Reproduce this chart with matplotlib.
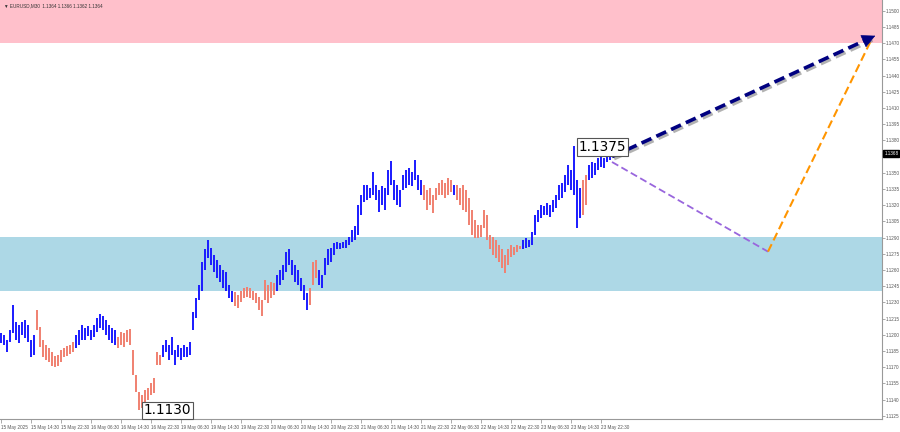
import numpy as np
import matplotlib
matplotlib.use("Agg")
import matplotlib.pyplot as plt
import matplotlib.patheffects as pe

# EURUSD M30 bars (high / low)
highs = [1.1202, 1.1200, 1.1195, 1.1204, 1.1228, 1.1212, 1.1209, 1.1212, 1.1214, 1.1209,
         1.1195, 1.1200, 1.1223, 1.1207, 1.1195, 1.1191, 1.1188, 1.1184, 1.1180, 1.1181,
         1.1186, 1.1188, 1.1190, 1.1191, 1.1193, 1.1200, 1.1204, 1.1209, 1.1206, 1.1208,
         1.1204, 1.1209, 1.1216, 1.1219, 1.1217, 1.1214, 1.1209, 1.1206, 1.1204, 1.1198,
         1.1203, 1.1202, 1.1204, 1.1205, 1.1186, 1.1163, 1.1147, 1.1144, 1.1149, 1.1151,
         1.1155, 1.1160, 1.1184, 1.1181, 1.1191, 1.1195, 1.1191, 1.1198, 1.1186, 1.1191,
         1.1188, 1.1191, 1.1189, 1.1193, 1.1221, 1.1234, 1.1246, 1.1267, 1.1279, 1.1288,
         1.1280, 1.1274, 1.1269, 1.1265, 1.1260, 1.1258, 1.1246, 1.1241, 1.1240, 1.1237,
         1.1241, 1.1243, 1.1244, 1.1243, 1.1241, 1.1239, 1.1235, 1.1232, 1.1251, 1.1246,
         1.1249, 1.1248, 1.1255, 1.1260, 1.1265, 1.1277, 1.1279, 1.1269, 1.1265, 1.1260,
         1.1253, 1.1246, 1.1239, 1.1243, 1.1267, 1.1269, 1.1260, 1.1255, 1.1271, 1.1279,
         1.1280, 1.1285, 1.1286, 1.1285, 1.1286, 1.1288, 1.1291, 1.1297, 1.1301, 1.1320,
         1.1329, 1.1339, 1.1339, 1.1336, 1.1351, 1.1339, 1.1334, 1.1338, 1.1336, 1.1353,
         1.1361, 1.1343, 1.1339, 1.1334, 1.1348, 1.1353, 1.1354, 1.1351, 1.1362, 1.1348,
         1.1343, 1.1339, 1.1334, 1.1336, 1.1329, 1.1336, 1.1341, 1.1343, 1.1341, 1.1345,
         1.1343, 1.1339, 1.1339, 1.1336, 1.1339, 1.1334, 1.1327, 1.1316, 1.1306, 1.1302,
         1.1302, 1.1316, 1.1311, 1.1292, 1.1291, 1.1288, 1.1283, 1.1279, 1.1274, 1.1279,
         1.1283, 1.1281, 1.1283, 1.1282, 1.1288, 1.1290, 1.1288, 1.1295, 1.1311, 1.1316,
         1.1320, 1.1319, 1.1322, 1.1320, 1.1325, 1.1329, 1.1339, 1.1341, 1.1348, 1.1357,
         1.1353, 1.1375, 1.1343, 1.1336, 1.1343, 1.1348, 1.1357, 1.1360, 1.1359, 1.1364,
         1.1366, 1.1364, 1.1367, 1.1368]
lows = [1.1192, 1.1191, 1.1184, 1.1193, 1.1202, 1.1195, 1.1192, 1.1200, 1.1197, 1.1193,
        1.1179, 1.1181, 1.1204, 1.1189, 1.1179, 1.1177, 1.1175, 1.1171, 1.1170, 1.1171,
        1.1175, 1.1179, 1.1180, 1.1182, 1.1184, 1.1188, 1.1191, 1.1195, 1.1195, 1.1199,
        1.1195, 1.1198, 1.1203, 1.1206, 1.1204, 1.1200, 1.1195, 1.1192, 1.1191, 1.1188,
        1.1191, 1.1189, 1.1193, 1.1191, 1.1163, 1.1147, 1.1130, 1.1132, 1.1137, 1.1140,
        1.1144, 1.1146, 1.1172, 1.1172, 1.1179, 1.1184, 1.1177, 1.1181, 1.1172, 1.1179,
        1.1177, 1.1179, 1.1179, 1.1181, 1.1204, 1.1216, 1.1232, 1.1241, 1.1260, 1.1271,
        1.1265, 1.1258, 1.1253, 1.1249, 1.1243, 1.1241, 1.1234, 1.1230, 1.1227, 1.1225,
        1.1230, 1.1234, 1.1235, 1.1234, 1.1232, 1.1229, 1.1223, 1.1217, 1.1232, 1.1229,
        1.1234, 1.1237, 1.1241, 1.1246, 1.1251, 1.1258, 1.1265, 1.1255, 1.1249, 1.1246,
        1.1241, 1.1232, 1.1223, 1.1228, 1.1246, 1.1253, 1.1246, 1.1243, 1.1255, 1.1265,
        1.1267, 1.1274, 1.1279, 1.1279, 1.1280, 1.1280, 1.1283, 1.1286, 1.1288, 1.1292,
        1.1311, 1.1323, 1.1325, 1.1327, 1.1329, 1.1325, 1.1314, 1.1320, 1.1316, 1.1329,
        1.1339, 1.1325, 1.1320, 1.1318, 1.1334, 1.1336, 1.1339, 1.1338, 1.1343, 1.1334,
        1.1329, 1.1325, 1.1316, 1.1320, 1.1313, 1.1325, 1.1329, 1.1329, 1.1327, 1.1329,
        1.1332, 1.1329, 1.1325, 1.1320, 1.1316, 1.1314, 1.1302, 1.1292, 1.1290, 1.1290,
        1.1291, 1.1299, 1.1288, 1.1279, 1.1274, 1.1271, 1.1267, 1.1262, 1.1257, 1.1265,
        1.1272, 1.1274, 1.1277, 1.1279, 1.1279, 1.1280, 1.1281, 1.1283, 1.1292, 1.1304,
        1.1308, 1.1311, 1.1311, 1.1309, 1.1314, 1.1317, 1.1325, 1.1327, 1.1332, 1.1339,
        1.1334, 1.1329, 1.1299, 1.1308, 1.1311, 1.1320, 1.1343, 1.1345, 1.1348, 1.1353,
        1.1355, 1.1354, 1.1360, 1.1362]

# wave colouring: (first bar, last bar, direction)
waves = [(0, 11, "up"), (12, 24, "down"), (25, 38, "up"), (39, 53, "down"),
         (54, 77, "up"), (78, 91, "down"), (92, 102, "up"), (103, 105, "down"),
         (106, 140, "up"), (141, 150, "down"), (151, 151, "up"), (152, 173, "down"),
         (174, 193, "up"), (194, 195, "down"), (196, 203, "up")]

time_labels = ["15 May 2025", "15 May 14:30", "15 May 22:30", "16 May 06:30", "16 May 14:30",
               "16 May 22:30", "19 May 06:30", "19 May 14:30", "19 May 22:30", "20 May 06:30",
               "20 May 14:30", "20 May 22:30", "21 May 06:30", "21 May 14:30", "21 May 22:30",
               "22 May 06:30", "22 May 14:30", "22 May 22:30", "23 May 06:30", "23 May 14:30",
               "23 May 22:30"]

resistance_zone = (1.1470, 1.1520)
support_zone = (1.1241, 1.1291)

# forecast path (bar index, price)
main_arrow = [(203.7, 1.1365), (292.3, 1.1478)]
correction = [(203.7, 1.1360), (255.7, 1.1277)]
final_leg = [(255.7, 1.1277), (290.3, 1.1474)]

high_label = (192.5, 1.1374, "1.1375")
low_label = (47.6, 1.1130, "1.1130")
last_price = 1.1368
header = "\u25bc EURUSD,M30  1.1364 1.1366 1.1362 1.1364"

up_color = "#1a1aff"
down_color = "#f08070"
small = dict(family=["Liberation Sans", "DejaVu Sans"], size=3.3)

fig = plt.figure(figsize=(9, 4.32), dpi=100)
ax = fig.add_axes([0, 13 / 432, 882 / 900, 419 / 432])

ax.axhspan(*resistance_zone, color="#ffc0cb", lw=0, zorder=0)
ax.axhspan(*support_zone, color="#add8e6", lw=0, zorder=0)

idx = np.arange(len(highs))
cols = [None] * len(highs)
for a, b, d in waves:
    for i in range(a, b + 1):
        cols[i] = up_color if d == "up" else down_color
ax.vlines(idx, lows, highs, colors=cols, linewidth=1.4, zorder=2)

# forecast lines
(x0, y0), (x1, y1) = main_arrow
ax.plot([x0, x1 - 2.5], [y0, y1 - (y1 - y0) * 2.5 / (x1 - x0)], color="#000080", lw=2.6,
        ls=(0, (3, 1.5)), zorder=4,
        path_effects=[pe.SimpleLineShadow(offset=(1.5, -1.5), shadow_color="gray", alpha=0.6), pe.Normal()])
ax.annotate("", xy=(x1, y1), xytext=(x1 - 4, y1 - (y1 - y0) * 4 / (x1 - x0)),
            arrowprops=dict(arrowstyle="-|>", color="#000080", lw=0.5, mutation_scale=22), zorder=5)
ax.plot([p[0] for p in correction], [p[1] for p in correction], color="#9966dd", lw=1.3,
        ls=(0, (4, 2)), zorder=3)
ax.plot([p[0] for p in final_leg], [p[1] for p in final_leg], color="#ff9500", lw=1.5,
        ls=(0, (4, 2)), zorder=3)

for x, y, t in (high_label, low_label):
    ax.text(x, y, t, fontsize=9.8, va="center", ha="left", zorder=6,
            bbox=dict(boxstyle="square,pad=0.12", fc="white", ec="#555555", lw=0.8))

ax.text(0.004, 0.992, header, transform=ax.transAxes, va="top", color="#333333", **small)

ax.set_xlim(-0.3, 293.7)
ax.set_ylim(1.1510 - 419 / 10800, 1.1510)

ax.set_xticks(np.arange(len(time_labels)) * 10)
ax.set_xticklabels(time_labels, color="#555555", ha="left", **small)
ax.tick_params(axis="x", length=3, width=0.5, color="#888888", pad=1)

yt = [round(1.1500 - 0.0015 * k, 4) for k in range(26)]
yt = [v for v in yt if abs(v - 1.1365) > 1e-6]
ax.yaxis.tick_right()
ax.set_yticks(yt)
ax.set_yticklabels([f"{v:.4f}" for v in yt], color="#555555", **small)
ax.tick_params(axis="y", length=2, width=0.5, color="#888888", pad=1)

ax.annotate(f"{last_price:.4f}", xy=(1.0, last_price), xycoords=("axes fraction", "data"),
            xytext=(1.6, 0), textcoords="offset points", color="white",
            va="center", ha="left", annotation_clip=False,
            bbox=dict(boxstyle="square,pad=0.25", fc="black", ec="black"), **small)

for s in ["top", "left"]:
    ax.spines[s].set_visible(False)
for s in ["right", "bottom"]:
    ax.spines[s].set_color("#999999")
    ax.spines[s].set_linewidth(0.8)

fig.savefig("out.png", dpi=100)
